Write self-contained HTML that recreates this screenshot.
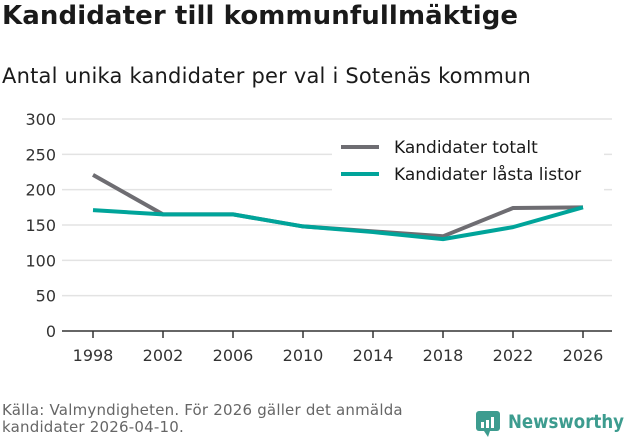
<!DOCTYPE html>
<html><head><meta charset="utf-8"><style>
body{margin:0;background:#fff;font-family:"DejaVu Sans","Liberation Sans",sans-serif;}
#wrap{position:relative;width:631px;height:439px;overflow:hidden;}
h1{position:absolute;left:2px;top:1px;margin:0;font-size:26px;font-weight:bold;color:#1a1a1a;letter-spacing:0.1px;}
h2{position:absolute;left:2px;top:64px;margin:0;font-size:21px;font-weight:normal;color:#1a1a1a;letter-spacing:0.2px;}
.src{position:absolute;left:2px;top:402px;font-size:15px;color:#666;line-height:17px;letter-spacing:0.2px;}
.logo{position:absolute;left:476px;top:410px;}
</style></head><body><div id="wrap">
<h1>Kandidater till kommunfullmäktige</h1>
<h2>Antal unika kandidater per val i Sotenäs kommun</h2>
<svg id="c" width="631" height="439" style="position:absolute;left:0;top:0"></svg>
<div class="src">Källa: Valmyndigheten. För 2026 gäller det anmälda<br>kandidater 2026-04-10.</div>
<div class="logo">
<svg width="155" height="30"><rect x="0" y="1" width="24" height="20" rx="3" fill="#3d9c8f"/><path d="M8 21 L12 27 L14 21Z" fill="#3d9c8f"/><rect x="5" y="12" width="3" height="6" fill="#fff"/><rect x="10" y="10" width="3" height="8" fill="#fff"/><rect x="15" y="7" width="3" height="11" fill="#fff"/><text x="32" y="18" font-size="19" font-weight="bold" fill="#3d9c8f" font-family="DejaVu Sans, sans-serif" textLength="116" lengthAdjust="spacingAndGlyphs">Newsworthy</text></svg></div>
</div>
<script>
const years=[1998,2002,2006,2010,2014,2018,2022,2026];
const totalt=[221,165,165,148,141,134,174,175];
const lasta=[171,165,165,148,140,130,147,175];
const yTicks=[0,50,100,150,200,250,300];
const ns="http://www.w3.org/2000/svg",svg=document.getElementById('c');
const x=v=>93+(v-1998)*490/28, y=v=>331-v*212/300;
function mk(t,a){const e=document.createElementNS(ns,t);for(const k in a)e.setAttribute(k,a[k]);svg.appendChild(e);return e;}
yTicks.forEach(t=>{
 if(t>0){const g=mk('line',{x1:62,x2:612,y1:y(t),y2:y(t),stroke:'#e3e3e3','stroke-width':1.5});
 
 }
 const l=mk('text',{x:56,y:y(t)+6,'text-anchor':'end','font-size':16,fill:'#333','font-family':'DejaVu Sans, sans-serif'});l.textContent=t;
 
 
});
const ax=mk('line',{x1:62,x2:612,y1:331,y2:331,stroke:'#333','stroke-width':1.5});


years.forEach(yr=>{
 const tk=mk('line',{x1:x(yr),x2:x(yr),y1:331,y2:338,stroke:'#333','stroke-width':1.5});
 
 
 const l=mk('text',{x:x(yr),y:361,'text-anchor':'middle','font-size':16,fill:'#333','font-family':'DejaVu Sans, sans-serif'});l.textContent=yr;
 
 
});
function line(d,c,n){const p=mk('polyline',{points:d.map((v,i)=>x(years[i])+','+y(v)).join(' '),fill:'none',stroke:c,'stroke-width':4,'stroke-linejoin':'round'});
 
 }
const bg=mk('rect',{x:332,y:128,width:272,height:66,fill:'#fff'});


line(totalt,'#6e6d72','line-kandidater-totalt');
line(lasta,'#00a49a','line-kandidater-lasta-listor');
[['Kandidater totalt','#6e6d72',147],['Kandidater låsta listor','#00a49a',174]].forEach(([t,c,yy],i)=>{
 const g=mk('line',{x1:341,x2:379,y1:yy,y2:yy,stroke:c,'stroke-width':4});
 
 
 const l=mk('text',{x:394,y:yy+6,'font-size':17,fill:'#1a1a1a','font-family':'DejaVu Sans, sans-serif'});l.textContent=t;
 
 
});
</script></body></html>
